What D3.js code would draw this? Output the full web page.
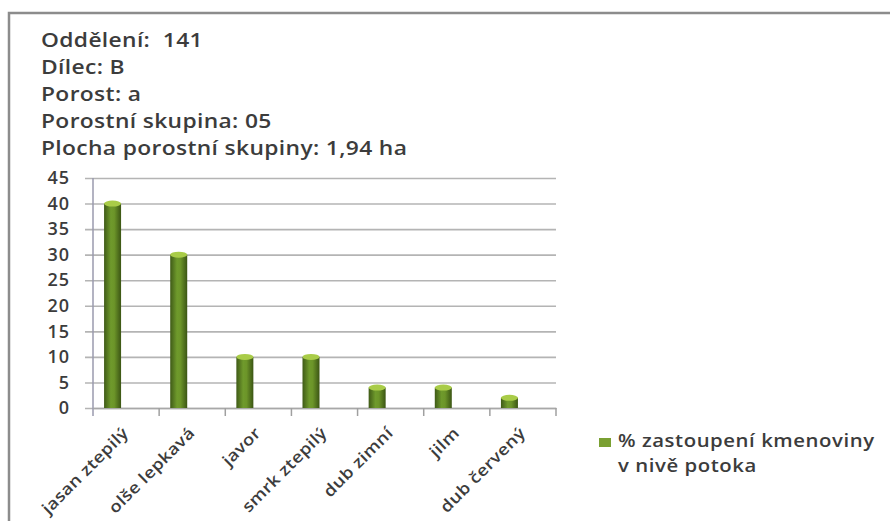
<!DOCTYPE html>
<html>
<head>
<meta charset="utf-8">
<script src="https://cdn.jsdelivr.net/npm/d3@7"></script>
<style>
  body { margin: 0; background: #fff; }
  svg text { font-family: "Open Sans", "DejaVu Sans", sans-serif; fill: #3c3c3c; font-weight: 600; }
</style>
</head>
<body>
<div id="chart"></div>
<script>
var categories = ["jasan ztepilý", "olše lepkavá", "javor", "smrk ztepilý", "dub zimní", "jilm", "dub červený"];
var values = [40, 30, 10, 10, 4, 4, 2];
var yTicks = [0, 5, 10, 15, 20, 25, 30, 35, 40, 45];
var infoLines = ["Oddělení:  141", "Dílec: B", "Porost: a", "Porostní skupina: 05", "Plocha porostní skupiny: 1,94 ha"];
var legendLines = ["% zastoupení kmenoviny", "v nivě potoka"];

function init(){
    var w = 890;
    var h = 521;
    var barW = 17;
    var barShift = -13.5;

    var svg = d3.select("#chart")
        .append("svg")
        .attr("width", w)
        .attr("height", h);

    // frame of the chart area (runs off right and bottom)
    svg.append("path")
        .attr("d", "M9,530 L9,13 L900,13")
        .attr("fill", "none")
        .attr("stroke", "#8c8c8c")
        .attr("stroke-width", 2.5);

    var defs = svg.append("defs");
    var grad = defs.append("linearGradient")
        .attr("id", "cyl")
        .attr("x1", "0%").attr("x2", "100%")
        .attr("y1", "0%").attr("y2", "0%");
    grad.append("stop").attr("offset", "0%").attr("stop-color", "#3f5a17");
    grad.append("stop").attr("offset", "40%").attr("stop-color", "#6f9a2c");
    grad.append("stop").attr("offset", "60%").attr("stop-color", "#6c9529");
    grad.append("stop").attr("offset", "100%").attr("stop-color", "#3b5514");

    // info text (the scanned font is wide, so stretch horizontally)
    svg.append("g")
        .attr("transform", "translate(41,0) scale(1.2,1)")
        .selectAll("text")
        .data(infoLines)
        .enter()
        .append("text")
        .attr("x", 0)
        .attr("y", function(d, i){ return 47 + i * 27; })
        .style("font-size", "19px")
        .style("letter-spacing", "0.3px")
        .style("white-space", "pre")
        .text(function(d){ return d; });

    var xScale = d3.scaleBand()
        .domain(categories)
        .range([93, 556]);

    var yScale = d3.scaleLinear()
        .domain([0, 45])
        .range([408, 178]);

    // gridlines + y labels
    var yAxis = d3.axisLeft(yScale)
        .tickValues(yTicks)
        .tickSize(-(556 - 93))
        .tickPadding(23);
    var gy = svg.append("g")
        .attr("transform", "translate(93,0)")
        .call(yAxis);
    gy.select(".domain").remove();
    gy.selectAll(".tick line")
        .attr("x1", -8)
        .attr("stroke", "#b4b4b4")
        .attr("stroke-width", 1.6);
    gy.selectAll(".tick text")
        .style("font-size", "18px")
        .style("font-family", "Open Sans")
        .style("font-weight", "600")
        .style("letter-spacing", "1px")
        .attr("fill", "#3c3c3c");

    // vertical axis line
    svg.append("line")
        .attr("x1", 93).attr("x2", 93)
        .attr("y1", yScale(45)).attr("y2", yScale(0) + 8)
        .attr("stroke", "#9a9aae")
        .attr("stroke-width", 1.5);

    // x axis
    var xAxis = d3.axisBottom(xScale).tickSize(0).tickFormat("");
    var gx = svg.append("g")
        .attr("transform", "translate(0," + yScale(0) + ")")
        .call(xAxis);
    gx.select(".domain")
        .attr("stroke", "#a8a8a8")
        .attr("stroke-width", 1.6);
    var bounds = categories.map(function(c){ return xScale(c); }).concat([xScale.range()[1]]);
    svg.append("g").selectAll("line")
        .data(bounds.slice(1))
        .enter()
        .append("line")
        .attr("x1", function(d){ return d; })
        .attr("x2", function(d){ return d; })
        .attr("y1", yScale(0))
        .attr("y2", yScale(0) + 8)
        .attr("stroke", "#a0a0a0")
        .attr("stroke-width", 1.5);

    // bars (cylinders)
    var bars = svg.append("g").selectAll("g")
        .data(values)
        .enter()
        .append("g");
    bars.append("rect")
        .attr("x", function(d, i){ return xScale(categories[i]) + xScale.bandwidth() / 2 + barShift - barW / 2; })
        .attr("y", function(d){ return yScale(d); })
        .attr("width", barW)
        .attr("height", function(d){ return yScale(0) - yScale(d); })
        .attr("fill", "url(#cyl)");
    bars.append("ellipse")
        .attr("cx", function(d, i){ return xScale(categories[i]) + xScale.bandwidth() / 2 + barShift; })
        .attr("cy", function(d){ return yScale(d); })
        .attr("rx", barW / 2)
        .attr("ry", 3)
        .attr("fill", "#a9cc48");

    // category labels
    svg.append("g").selectAll("text")
        .data(categories)
        .enter()
        .append("text")
        .attr("text-anchor", "end")
        .attr("transform", function(d){
            var cx = xScale(d) + xScale.bandwidth() / 2 + barShift + 17;
            return "translate(" + cx + ",434) rotate(-45) scale(1.15,1)";
        })
        .style("font-size", "16px")
        .style("letter-spacing", "0.3px")
        .text(function(d){ return d; });

    // legend
    svg.append("rect")
        .attr("x", 599).attr("y", 438)
        .attr("width", 12).attr("height", 9)
        .attr("fill", "#7aa032");
    svg.append("g")
        .attr("transform", "translate(618,0) scale(1.13,1)")
        .selectAll("text")
        .data(legendLines)
        .enter()
        .append("text")
        .attr("x", 0)
        .attr("y", function(d, i){ return 447 + i * 25; })
        .style("font-size", "18px")
        .style("letter-spacing", "0.5px")
        .text(function(d){ return d; });
}

window.onload = init;
</script>
</body>
</html>
